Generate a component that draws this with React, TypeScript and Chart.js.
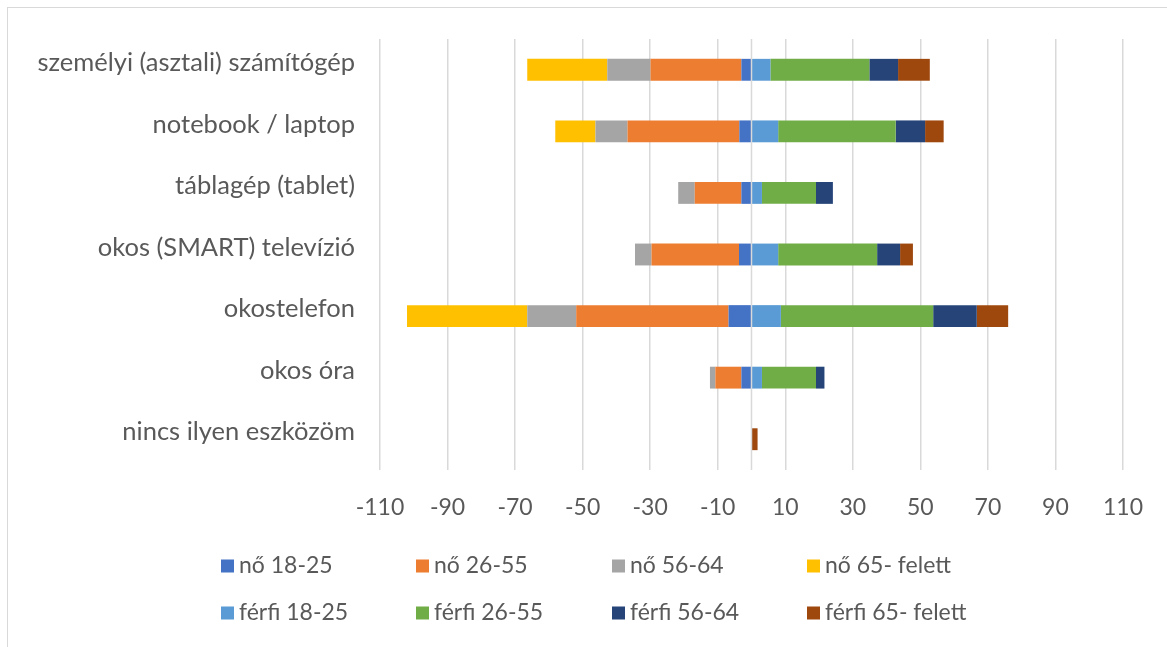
import React, { useEffect, useRef } from "react";
import { Chart, registerables } from "chart.js";

Chart.register(...registerables);

const categories = [
  "személyi (asztali) számítógép",
  "notebook / laptop",
  "táblagép (tablet)",
  "okos (SMART) televízió",
  "okostelefon",
  "okos óra",
  "nincs ilyen eszközöm",
];

// female values shown on the negative side
const no1825 = [-3.0, -3.6, -3.0, -3.7, -6.8, -3.0, 0];
const no2655 = [-26.9, -33.1, -13.8, -25.9, -45.1, -7.7, 0];
const no5664 = [-12.8, -9.5, -4.9, -4.9, -14.5, -1.6, 0];
const no65 = [-23.7, -11.9, 0, 0, -35.6, 0, 0];

const ferfi1825 = [5.6, 7.9, 3.1, 7.9, 8.7, 3.1, 0];
const ferfi2655 = [29.3, 34.8, 16.0, 29.3, 45.1, 16.0, 0];
const ferfi5664 = [8.5, 8.7, 5.0, 6.8, 12.9, 2.5, 0];
const ferfi65 = [9.4, 5.5, 0, 3.8, 9.3, 0, 1.8];

const seriesNames = [
  "nő 18-25",
  "nő 26-55",
  "nő 56-64",
  "nő 65- felett",
  "férfi 18-25",
  "férfi 26-55",
  "férfi 56-64",
  "férfi 65- felett",
];
const seriesColors = [
  "#4472C4",
  "#ED7D31",
  "#A5A5A5",
  "#FFC000",
  "#5B9BD5",
  "#70AD47",
  "#264478",
  "#9E480E",
];

const xMin = -110;
const xMax = 110;
const xStep = 20;

const FONT = "Lato, 'Open Sans', sans-serif";
const TEXT_COLOR = "#595959";
const GRID_COLOR = "#d9d9d9";

export default function App() {
  const canvasRef = useRef<HTMLCanvasElement | null>(null);

  useEffect(() => {
    document.body.style.margin = "0";
    const canvas = canvasRef.current;
    if (!canvas) return;

    const values = [no1825, no2655, no5664, no65, ferfi1825, ferfi2655, ferfi5664, ferfi65];

    const zeroLine = {
      id: "zeroLine",
      afterDatasetsDraw(chart: any) {
        const { ctx, chartArea, scales } = chart;
        const x = scales.x.getPixelForValue(0);
        ctx.save();
        ctx.strokeStyle = GRID_COLOR;
        ctx.lineWidth = 1.5;
        ctx.beginPath();
        ctx.moveTo(x, chartArea.top);
        ctx.lineTo(x, chartArea.bottom);
        ctx.stroke();
        ctx.restore();
      },
    };

    const customLegend = {
      id: "customLegend",
      afterDraw(chart: any) {
        const { ctx } = chart;
        ctx.save();
        // outer border
        ctx.strokeStyle = GRID_COLOR;
        ctx.lineWidth = 1;
        ctx.strokeRect(7.5, 7.5, 1300, 800);

        const colX = [221, 416, 612, 807];
        const rowY = [566, 613];
        const box = 13;
        ctx.font = `23px ${FONT}`;
        ctx.textBaseline = "middle";
        ctx.textAlign = "left";
        seriesNames.forEach((name, i) => {
          const r = Math.floor(i / 4);
          const c = i % 4;
          const x = colX[c];
          const y = rowY[r];
          ctx.fillStyle = seriesColors[i];
          ctx.fillRect(x, y - box / 2, box, box);
          ctx.fillStyle = TEXT_COLOR;
          ctx.fillText(name, x + box + 5, y);
        });
        ctx.restore();
      },
    };

    const chart = new Chart(canvas, {
      type: "bar",
      data: {
        labels: categories,
        datasets: seriesNames.map((name, i) => ({
          label: name,
          data: values[i],
          backgroundColor: seriesColors[i],
          borderWidth: 0,
          barPercentage: 0.355,
          categoryPercentage: 1,
          stack: "s",
        })),
      },
      options: {
        indexAxis: "y",
        responsive: false,
        animation: false,
        layout: { padding: { left: 0, right: 42, top: 35, bottom: 0 } },
        plugins: {
          legend: { display: false },
          tooltip: { enabled: false },
        },
        scales: {
          x: {
            type: "linear",
            stacked: true,
            min: xMin,
            max: xMax,
            ticks: {
              stepSize: xStep,
              color: TEXT_COLOR,
              font: { family: FONT, size: 23 },
              padding: 24,
              callback: (v: any) => String(v),
            },
            grid: {
              color: GRID_COLOR,
              lineWidth: 1.5,
              drawTicks: false,
            },
            border: { display: false },
            afterFit: (scale: any) => {
              scale.height = 177;
            },
          },
          y: {
            stacked: true,
            ticks: {
              color: TEXT_COLOR,
              font: { family: FONT, size: 25.5, lineHeight: "14px" },
              padding: 25,
              callback: (_v: any, i: number) => [categories[i], ""],
            },
            grid: { display: false, drawTicks: false },
            border: { display: false },
            afterFit: (scale: any) => {
              scale.width = 380;
            },
          },
        },
      },
      plugins: [zeroLine, customLegend],
    });

    return () => {
      chart.destroy();
    };
  }, []);

  return (
    <div style={{ width: 1167, height: 647, background: "#fff" }}>
      <canvas ref={canvasRef} width={1167} height={647} />
    </div>
  );
}
